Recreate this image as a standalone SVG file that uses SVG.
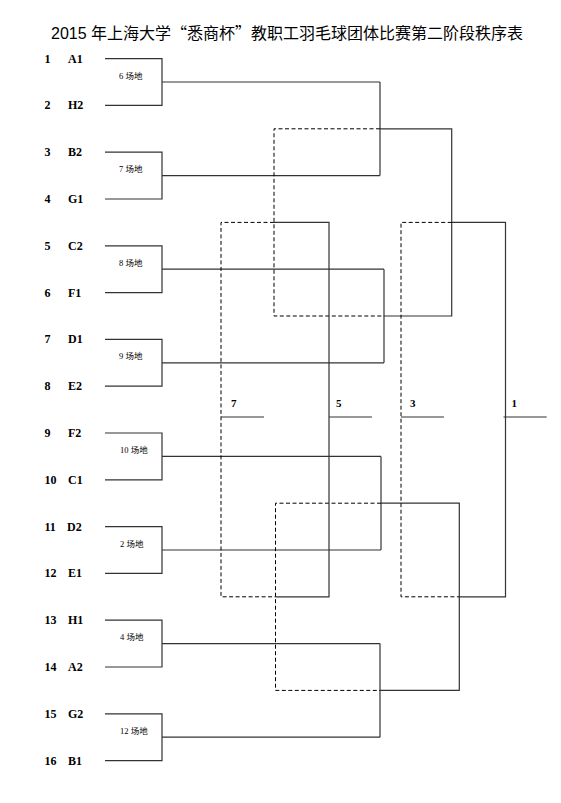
<svg xmlns="http://www.w3.org/2000/svg" width="561" height="803" viewBox="0 0 561 803">
<style>
.title{font-family:"Liberation Sans","Noto Sans CJK SC",sans-serif;font-size:16px;fill:#000}
.q{font-family:"Noto Sans CJK SC",sans-serif}
.lbl{font-family:"Liberation Serif","Noto Sans CJK SC",serif;font-size:12px;font-weight:bold;fill:#000}
.ct{font-family:"Liberation Serif","Noto Sans CJK SC",serif;font-size:8.5px;fill:#000}
.pl{font-family:"Liberation Serif",serif;font-size:11px;font-weight:bold;fill:#000}
.s{fill:none;stroke:#333;stroke-width:1.2}
.d{fill:none;stroke:#000;stroke-width:1;stroke-dasharray:4,2.5}
</style>
<rect width="561" height="803" fill="#fff"/>
<text class="title" x="51" y="39">2015 年上海大学<tspan class="q">“</tspan>悉商杯<tspan class="q">”</tspan>教职工羽毛球团体比赛第二阶段秩序表</text>

<g id="teams">
<g id="t1"><text class="lbl" x="44.5" y="62.6">1</text><text class="lbl" x="68" y="62.6">A1</text></g>
<g id="t2"><text class="lbl" x="44.5" y="109.4">2</text><text class="lbl" x="68" y="109.4">H2</text></g>
<g id="t3"><text class="lbl" x="44.5" y="156.2">3</text><text class="lbl" x="68" y="156.2">B2</text></g>
<g id="t4"><text class="lbl" x="44.5" y="203">4</text><text class="lbl" x="68" y="203">G1</text></g>
<g id="t5"><text class="lbl" x="44.5" y="249.8">5</text><text class="lbl" x="68" y="249.8">C2</text></g>
<g id="t6"><text class="lbl" x="44.5" y="296.6">6</text><text class="lbl" x="68" y="296.6">F1</text></g>
<g id="t7"><text class="lbl" x="44.5" y="343.4">7</text><text class="lbl" x="68" y="343.4">D1</text></g>
<g id="t8"><text class="lbl" x="44.5" y="390.2">8</text><text class="lbl" x="68" y="390.2">E2</text></g>
<g id="t9"><text class="lbl" x="44.5" y="437">9</text><text class="lbl" x="68" y="437">F2</text></g>
<g id="t10"><text class="lbl" x="44.5" y="483.8">10</text><text class="lbl" x="68" y="483.8">C1</text></g>
<g id="t11"><text class="lbl" x="44.5" y="530.6">11</text><text class="lbl" x="67" y="530.6">D2</text></g>
<g id="t12"><text class="lbl" x="44.5" y="577.4">12</text><text class="lbl" x="68" y="577.4">E1</text></g>
<g id="t13"><text class="lbl" x="44.5" y="624.2">13</text><text class="lbl" x="68" y="624.2">H1</text></g>
<g id="t14"><text class="lbl" x="44.5" y="671">14</text><text class="lbl" x="68" y="671">A2</text></g>
<g id="t15"><text class="lbl" x="44.5" y="717.8">15</text><text class="lbl" x="68" y="717.8">G2</text></g>
<g id="t16"><text class="lbl" x="44.5" y="764.6">16</text><text class="lbl" x="68" y="764.6">B1</text></g>
</g>

<g id="courts">
<g id="c6"><text class="ct" x="119" y="78.5">6 场地</text></g>
<g id="c7"><text class="ct" x="119" y="172.1">7 场地</text></g>
<g id="c8"><text class="ct" x="119" y="265.7">8 场地</text></g>
<g id="c9"><text class="ct" x="119" y="359.3">9 场地</text></g>
<g id="c10"><text class="ct" x="120" y="452.9">10 场地</text></g>
<g id="c2"><text class="ct" x="120" y="546.5">2 场地</text></g>
<g id="c4"><text class="ct" x="120" y="640.1">4 场地</text></g>
<g id="c12"><text class="ct" x="120" y="733.7">12 场地</text></g>
</g>

<g id="places">
<g id="p7"><text class="pl" x="231" y="407">7</text></g>
<g id="p5"><text class="pl" x="336" y="407">5</text></g>
<g id="p3"><text class="pl" x="410" y="407">3</text></g>
<g id="p1"><text class="pl" x="511.5" y="407">1</text></g>
</g>

<g id="connectors">
<!-- first round -->
<path class="s" d="M105 58.6H162V105.4H105M162 82H380"/>
<path class="s" d="M105 152.2H162V199H105M162 175.6H380"/>
<path class="s" d="M105 245.8H162V292.6H105M162 269.2H384"/>
<path class="s" d="M105 339.4H162V386.2H105M162 362.8H384"/>
<path class="s" d="M105 433H162V479.8H105M162 456.4H381"/>
<path class="s" d="M105 526.6H162V573.4H105M162 550H381"/>
<path class="s" d="M105 620.2H162V667H105M162 643.6H380"/>
<path class="s" d="M105 713.8H162V760.6H105M162 737.2H380"/>
<!-- second round -->
<path class="s" d="M380 82V175.6"/>
<path class="s" d="M384 269.2V362.8"/>
<path class="s" d="M381 456.4V550"/>
<path class="s" d="M380 643.6V737.2"/>
<!-- winners -->
<path class="s" d="M380 128.8H451.7V316H384"/>
<path class="s" d="M381 503.2H459.3V690.4H380"/>
<path class="s" d="M451.7 222.4H505.5V596.8H459.3"/>
<path class="s" d="M503.5 417H546.7"/>
<!-- losers -->
<path class="d" d="M380 128.8H274V316H384"/>
<path class="d" d="M381 503.2H275.5V690.4H380"/>
<path class="s" d="M274 222.4H329V596.8H275.5"/>
<path class="s" d="M329 417H372"/>
<!-- third place -->
<path class="d" d="M451.7 222.4H401V596.8H459.3"/>
<path class="s" d="M401 417H444"/>
<!-- seventh place -->
<path class="d" d="M274 222.4H221V596.8H275.5"/>
<path class="s" d="M221 417H264"/>
</g>
</svg>
